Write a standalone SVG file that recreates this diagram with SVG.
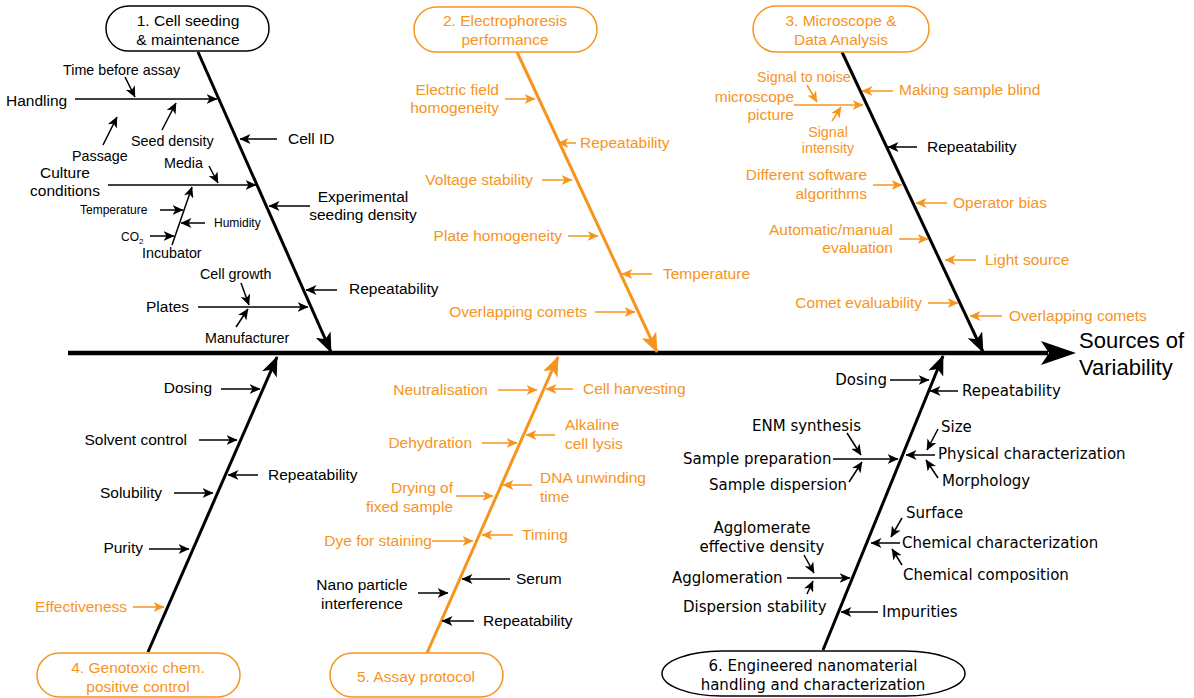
<svg xmlns="http://www.w3.org/2000/svg" width="1194" height="698" viewBox="0 0 1194 698">
<style>
text{font-family:"Liberation Sans",Arial,sans-serif;font-size:15.5px;fill:#000}
.o{fill:#F7941E}
.s{font-size:14.3px}
.xs{font-size:12px}
.d{font-family:"DejaVu Sans",Verdana,sans-serif;font-size:15px}
.m{text-anchor:middle}
.e{text-anchor:end}
.box{fill:#fff;stroke:#000;stroke-width:1.5}
.boxo{fill:#fff;stroke:#F7941E;stroke-width:1.5}
.k{stroke:#000;stroke-width:1.5;fill:none;marker-end:url(#ah)}
.ko{stroke:#F7941E;stroke-width:1.5;fill:none;marker-end:url(#aho)}
.br{stroke:#000;stroke-width:3;fill:none;marker-end:url(#big)}
.bro{stroke:#F7941E;stroke-width:3;fill:none;marker-end:url(#bigo)}
</style>
<defs>
<marker id="ah" viewBox="0 0 11 10" refX="10.5" refY="5" markerWidth="11" markerHeight="10" markerUnits="userSpaceOnUse" orient="auto"><path d="M0,0 L11,5 L0,10 L3,5 z" fill="#000"/></marker>
<marker id="aho" viewBox="0 0 11 10" refX="10.5" refY="5" markerWidth="11" markerHeight="10" markerUnits="userSpaceOnUse" orient="auto"><path d="M0,0 L11,5 L0,10 L3,5 z" fill="#F7941E"/></marker>
<marker id="big" viewBox="0 0 20 16" refX="19" refY="8" markerWidth="20" markerHeight="16" markerUnits="userSpaceOnUse" orient="auto"><path d="M0,0 L20,8 L0,16 L5,8 z" fill="#000"/></marker>
<marker id="bigo" viewBox="0 0 20 16" refX="19" refY="8" markerWidth="20" markerHeight="16" markerUnits="userSpaceOnUse" orient="auto"><path d="M0,0 L20,8 L0,16 L5,8 z" fill="#F7941E"/></marker>
</defs>
<rect width="1194" height="698" fill="#fff"/>

<g id="connectors">
<line x1="68" y1="353" x2="1048" y2="353" stroke="#000" stroke-width="4.5"/>
<polygon points="1041,341 1076,353 1041,365 1049,353" fill="#000"/>
<line class="br" x1="198" y1="52" x2="331" y2="352"/>
<line class="bro" x1="517" y1="52" x2="657" y2="352"/>
<line class="br" x1="842" y1="52" x2="983" y2="352"/>
<line class="br" x1="148" y1="652" x2="277" y2="357"/>
<line class="bro" x1="427" y1="653" x2="558" y2="357"/>
<line class="br" x1="823" y1="650" x2="943" y2="356"/>
<!-- branch 1 -->
<line class="k" x1="75" y1="99" x2="217" y2="99"/>
<line class="k" x1="125" y1="77" x2="135" y2="97"/>
<line class="k" x1="103" y1="145" x2="117" y2="117"/>
<line class="k" x1="162" y1="130" x2="176" y2="103"/>
<line class="k" x1="277" y1="139" x2="240" y2="139"/>
<line class="k" x1="108" y1="185" x2="256" y2="185"/>
<line class="k" x1="209" y1="166" x2="218" y2="183"/>
<line class="k" x1="172" y1="245" x2="192" y2="187"/>
<line class="k" x1="160" y1="210" x2="183" y2="210"/>
<line class="k" x1="205" y1="223" x2="181" y2="223"/>
<line class="k" x1="150" y1="236" x2="174" y2="236"/>
<line class="k" x1="310" y1="206" x2="269" y2="206"/>
<line class="k" x1="241" y1="283" x2="249" y2="305"/>
<line class="k" x1="198" y1="307" x2="308" y2="307"/>
<line class="k" x1="236" y1="327" x2="248" y2="309"/>
<line class="k" x1="337" y1="290" x2="306" y2="290"/>
<!-- branch 2 -->
<line class="ko" x1="505" y1="99" x2="535" y2="99"/>
<line class="ko" x1="576" y1="143" x2="558" y2="143"/>
<line class="ko" x1="542" y1="180" x2="572" y2="180"/>
<line class="ko" x1="568" y1="236" x2="598" y2="236"/>
<line class="ko" x1="652" y1="274" x2="622" y2="274"/>
<line class="ko" x1="595" y1="312" x2="635" y2="312"/>
<!-- branch 3 -->
<line class="ko" x1="807" y1="85" x2="817" y2="102"/>
<line class="ko" x1="794" y1="105" x2="863" y2="105"/>
<line class="ko" x1="832" y1="121" x2="841" y2="107"/>
<line class="ko" x1="893" y1="91" x2="862" y2="91"/>
<line class="k" x1="917" y1="147" x2="888" y2="147"/>
<line class="ko" x1="873" y1="185" x2="902" y2="185"/>
<line class="ko" x1="947" y1="203" x2="916" y2="203"/>
<line class="ko" x1="899" y1="239" x2="928" y2="239"/>
<line class="ko" x1="976" y1="260" x2="945" y2="260"/>
<line class="ko" x1="928" y1="303" x2="958" y2="303"/>
<line class="ko" x1="1002" y1="316" x2="970" y2="316"/>
<!-- branch 4 -->
<line class="k" x1="221" y1="389" x2="260" y2="389"/>
<line class="k" x1="199" y1="440" x2="237" y2="440"/>
<line class="k" x1="258" y1="475" x2="228" y2="475"/>
<line class="k" x1="174" y1="493" x2="213" y2="493"/>
<line class="k" x1="149" y1="549" x2="189" y2="549"/>
<line class="ko" x1="133" y1="607" x2="164" y2="607"/>
<!-- branch 5 -->
<line class="ko" x1="498" y1="390" x2="537" y2="390"/>
<line class="ko" x1="573" y1="389" x2="546" y2="389"/>
<line class="ko" x1="555" y1="435" x2="526" y2="435"/>
<line class="ko" x1="482" y1="443" x2="517" y2="443"/>
<line class="ko" x1="532" y1="485" x2="503" y2="485"/>
<line class="ko" x1="456" y1="496" x2="493" y2="496"/>
<line class="ko" x1="432" y1="541" x2="473" y2="541"/>
<line class="ko" x1="513" y1="535" x2="482" y2="535"/>
<line class="k" x1="510" y1="579" x2="462" y2="579"/>
<line class="k" x1="418" y1="593" x2="448" y2="593"/>
<line class="k" x1="474" y1="621" x2="442" y2="621"/>
<!-- branch 6 -->
<line class="k" x1="890" y1="380" x2="929" y2="380"/>
<line class="k" x1="958" y1="391" x2="930" y2="391"/>
<line class="k" x1="847" y1="433" x2="861" y2="455"/>
<line class="k" x1="833" y1="459" x2="898" y2="459"/>
<line class="k" x1="849" y1="482" x2="862" y2="462"/>
<line class="k" x1="938" y1="429" x2="927" y2="450"/>
<line class="k" x1="935" y1="455" x2="906" y2="455"/>
<line class="k" x1="938" y1="478" x2="926" y2="460"/>
<line class="k" x1="902" y1="518" x2="891" y2="537"/>
<line class="k" x1="900" y1="543" x2="871" y2="543"/>
<line class="k" x1="902" y1="565" x2="892" y2="549"/>
<line class="k" x1="787" y1="578" x2="850" y2="578"/>
<line class="k" x1="804" y1="555" x2="814" y2="573"/>
<line class="k" x1="807" y1="594" x2="813" y2="581"/>
<line class="k" x1="878" y1="612" x2="841" y2="612"/>
</g>

<g id="node-1">
<rect class="box" x="106" y="6" width="163" height="45" rx="22.5"/>
<text class="m" x="188" y="26">1. Cell seeding</text>
<text class="m" x="188" y="45">&amp; maintenance</text>
</g>
<g id="node-2">
<rect class="boxo" x="414" y="7" width="183" height="45" rx="22.5"/>
<text class="m o" x="505" y="26">2. Electrophoresis</text>
<text class="m o" x="505" y="45">performance</text>
</g>
<g id="node-3">
<rect class="boxo" x="753" y="6" width="176" height="46" rx="23"/>
<text class="m o" x="841" y="26">3. Microscope &amp;</text>
<text class="m o" x="841" y="45">Data Analysis</text>
</g>
<g id="node-4">
<rect class="boxo" x="37" y="653" width="203" height="44" rx="22"/>
<text class="m o" x="138" y="673">4. Genotoxic chem.</text>
<text class="m o" x="138" y="692">positive control</text>
</g>
<g id="node-5">
<rect class="boxo" x="330" y="653" width="173" height="44" rx="22"/>
<text class="m o" x="416" y="682">5. Assay protocol</text>
</g>
<g id="node-6">
<rect class="box" x="662" y="651" width="303" height="45" rx="60" ry="22.5"/>
<text class="m d" x="813" y="671">6. Engineered nanomaterial</text>
<text class="m d" x="813" y="690">handling and characterization</text>
</g>
<g id="node-effect">
<text x="1079" y="348" style="font-size:22px">Sources of</text>
<text x="1079" y="375" style="font-size:22px">Variability</text>
</g>

<g id="labels-1">
<text x="6" y="106">Handling</text>
<text class="s" x="63" y="75">Time before assay</text>
<text class="s" x="72" y="161">Passage</text>
<text class="s" x="131" y="146">Seed density</text>
<text x="288" y="144">Cell ID</text>
<text class="s" x="164" y="168">Media</text>
<text class="m" x="65" y="178">Culture</text>
<text class="m" x="65" y="196">conditions</text>
<text class="xs" x="80" y="214">Temperature</text>
<text class="xs" x="214" y="227">Humidity</text>
<text class="xs" x="121" y="241">CO<tspan style="font-size:8px" dy="3">2</tspan></text>
<text class="s" x="142" y="258">Incubator</text>
<text class="m" x="363" y="202">Experimental</text>
<text class="m" x="363" y="220">seeding density</text>
<text class="s" x="200" y="279">Cell growth</text>
<text x="146" y="312">Plates</text>
<text class="s" x="205" y="343">Manufacturer</text>
<text x="349" y="294">Repeatability</text>
</g>
<g id="labels-2">
<text class="o e" x="499" y="95">Electric field</text>
<text class="o e" x="499" y="113">homogeneity</text>
<text class="o" x="580" y="148">Repeatability</text>
<text class="o e" x="533" y="185">Voltage stability</text>
<text class="o e" x="562" y="241">Plate homogeneity</text>
<text class="o" x="663" y="279">Temperature</text>
<text class="o e" x="587" y="317">Overlapping comets</text>
</g>
<g id="labels-3">
<text class="o s" x="757" y="82">Signal to noise</text>
<text class="o e" x="794" y="102">microscope</text>
<text class="o e" x="794" y="120">picture</text>
<text class="o s m" x="828" y="137">Signal</text>
<text class="o s m" x="828" y="153">intensity</text>
<text class="o" x="899" y="95">Making sample blind</text>
<text x="927" y="152">Repeatability</text>
<text class="o e" x="867" y="180">Different software</text>
<text class="o e" x="867" y="199">algorithms</text>
<text class="o" x="953" y="208">Operator bias</text>
<text class="o e" x="893" y="235">Automatic/manual</text>
<text class="o e" x="893" y="253">evaluation</text>
<text class="o" x="985" y="265">Light source</text>
<text class="o e" x="922" y="308">Comet evaluability</text>
<text class="o" x="1009" y="321">Overlapping comets</text>
</g>
<g id="labels-4">
<text class="e" x="212" y="393">Dosing</text>
<text class="e" x="187" y="445">Solvent control</text>
<text x="268" y="480">Repeatability</text>
<text class="e" x="162" y="498">Solubility</text>
<text class="e" x="143" y="553">Purity</text>
<text class="o e" x="127" y="612">Effectiveness</text>
</g>
<g id="labels-5">
<text class="o e" x="488" y="395">Neutralisation</text>
<text class="o" x="583" y="394">Cell harvesting</text>
<text class="o" x="565" y="430">Alkaline</text>
<text class="o" x="565" y="449">cell lysis</text>
<text class="o e" x="472" y="448">Dehydration</text>
<text class="o" x="540" y="483">DNA unwinding</text>
<text class="o" x="540" y="502">time</text>
<text class="o e" x="453" y="493">Drying of</text>
<text class="o e" x="453" y="512">fixed sample</text>
<text class="o e" x="432" y="546">Dye for staining</text>
<text class="o" x="522" y="540">Timing</text>
<text x="516" y="584">Serum</text>
<text class="m" x="362" y="590">Nano particle</text>
<text class="m" x="362" y="609">interference</text>
<text x="483" y="626">Repeatability</text>
</g>
<g id="labels-6">
<text class="d e" x="887" y="385">Dosing</text>
<text class="d" x="962" y="396">Repeatability</text>
<text class="d" x="752" y="431">ENM synthesis</text>
<text class="d" x="683" y="464">Sample preparation</text>
<text class="d" x="709" y="490">Sample dispersion</text>
<text class="d" x="941" y="432">Size</text>
<text class="d" x="938" y="459">Physical characterization</text>
<text class="d" x="942" y="486">Morphology</text>
<text class="d" x="906" y="518">Surface</text>
<text class="d" x="902" y="548">Chemical characterization</text>
<text class="d" x="903" y="580">Chemical composition</text>
<text class="d m" x="762" y="533">Agglomerate</text>
<text class="d m" x="762" y="552">effective density</text>
<text class="d" x="672" y="583">Agglomeration</text>
<text class="d" x="683" y="612">Dispersion stability</text>
<text class="d" x="882" y="617">Impurities</text>
</g>
</svg>
